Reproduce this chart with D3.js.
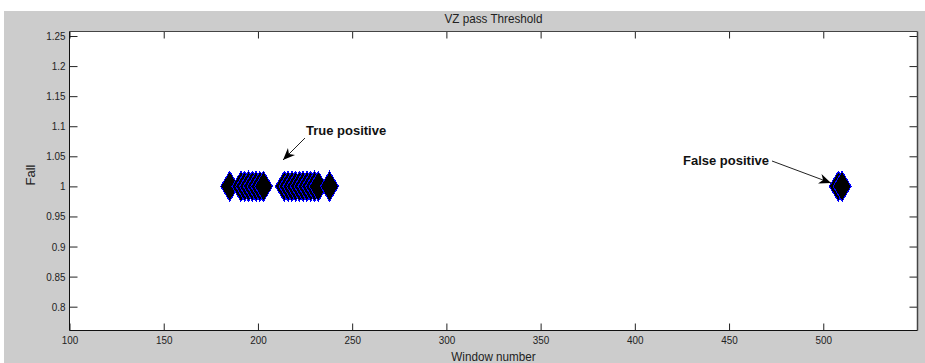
<!DOCTYPE html>
<html>
<head>
<meta charset="utf-8">
<script src="https://cdn.jsdelivr.net/npm/d3@7"></script>
<style>
  html, body { margin: 0; padding: 0; background: #ffffff; }
  svg { display: block; }
  text { font-family: "Liberation Sans", Arial, Helvetica, sans-serif; }
</style>
</head>
<body>
<svg id="chart" width="925" height="363"></svg>
<script>
// Windows flagged as falls (y = 1 means "fall")
const truePositiveWindows = [185,
  191, 193, 195, 197, 199, 201, 203,
  214, 216, 218, 220, 222, 224, 226, 228, 230, 232,
  238];
const falsePositiveWindows = [508, 510];
const fallValue = 1;

const xTicks = [100, 150, 200, 250, 300, 350, 400, 450, 500];
const yTicks = [0.8, 0.85, 0.9, 0.95, 1, 1.05, 1.1, 1.15, 1.2, 1.25];
const yTickLabels = ["0.8", "0.85", "0.9", "0.95", "1", "1.05", "1.1", "1.15", "1.2", "1.25"];

const titleText = "VZ pass Threshold";
const xLabelText = "Window number";
const yLabelText = "Fall";

const annotations = [
  { text: "True positive", window: 203, value: 1 },
  { text: "False positive", window: 508, value: 1 }
];

// ---- layout ----
const svg = d3.select("#chart");
const W = 925, H = 363;
const plot = { left: 69.5, right: 917.5, top: 31.5, bottom: 330.5 };

const x = d3.scaleLinear().domain([100, 550]).range([plot.left, plot.right]);
const y = d3.scaleLinear().domain([0.7604, 1.2575]).range([plot.bottom, plot.top]);

// figure background
svg.append("rect").attr("x", 4).attr("y", 11).attr("width", W - 4).attr("height", H - 11)
  .attr("fill", "#cccccc");

// axes background
svg.append("rect")
  .attr("x", plot.left).attr("y", plot.top)
  .attr("width", plot.right - plot.left).attr("height", plot.bottom - plot.top)
  .attr("fill", "#ffffff");

const condense = 0.9;

function styleAxis(g) {
  g.select(".domain").remove();
  g.selectAll(".tick line").attr("stroke", "#222").attr("stroke-width", 1);
  g.selectAll(".tick text").attr("fill", "#222").attr("font-size", 11);
}

// bottom axis with labels, ticks pointing inward
const gx = svg.append("g").attr("transform", `translate(0,${plot.bottom})`)
  .call(d3.axisBottom(x).tickValues(xTicks).tickSizeInner(-7).tickSizeOuter(0).tickPadding(6)
    .tickFormat(d3.format("d")));
styleAxis(gx);
gx.selectAll(".tick text").attr("transform", `scale(${condense},1)`).attr("x", 0);

// top axis: ticks only
const gxt = svg.append("g").attr("transform", `translate(0,${plot.top})`)
  .call(d3.axisTop(x).tickValues(xTicks).tickSizeInner(-7).tickSizeOuter(0).tickFormat(""));
styleAxis(gxt);

// left axis with labels
const gy = svg.append("g").attr("transform", `translate(${plot.left},0)`)
  .call(d3.axisLeft(y).tickValues(yTicks).tickSizeInner(-8).tickSizeOuter(0).tickPadding(4)
    .tickFormat((d, i) => yTickLabels[i]));
styleAxis(gy);
gy.selectAll(".tick text").attr("transform", `scale(${condense},1)`)
  .attr("x", -4 / condense);

// right axis: ticks only
const gyr = svg.append("g").attr("transform", `translate(${plot.right},0)`)
  .call(d3.axisRight(y).tickValues(yTicks).tickSizeInner(-8).tickSizeOuter(0).tickFormat(""));
styleAxis(gyr);

// axes box
svg.append("line").attr("x1", plot.left).attr("x2", plot.right).attr("y1", plot.top).attr("y2", plot.top)
  .attr("stroke", "#444").attr("stroke-width", 1);
svg.append("line").attr("x1", plot.right).attr("x2", plot.right).attr("y1", plot.top).attr("y2", plot.bottom)
  .attr("stroke", "#444").attr("stroke-width", 1.5);
svg.append("line").attr("x1", plot.left).attr("x2", plot.right).attr("y1", plot.bottom).attr("y2", plot.bottom)
  .attr("stroke", "#111").attr("stroke-width", 1);
svg.append("line").attr("x1", plot.left).attr("x2", plot.left).attr("y1", plot.top).attr("y2", plot.bottom)
  .attr("stroke", "#111").attr("stroke-width", 1);

// diamond markers, drawn in window order so later ones overlap earlier ones
const diamond = "M0,-15L9,0L0,15L-9,0Z";
const allWindows = truePositiveWindows.concat(falsePositiveWindows);
svg.append("g").attr("shape-rendering", "crispEdges")
  .selectAll("path").data(allWindows).join("path")
  .attr("d", diamond)
  .attr("transform", d => `translate(${x(d)},${y(fallValue)})`)
  .attr("fill", "#000000")
  .attr("stroke", "#0000ff")
  .attr("stroke-width", 1);

// title and axis labels
const midX = (plot.left + plot.right) / 2;
svg.append("text").attr("x", midX).attr("y", 23)
  .attr("text-anchor", "middle").attr("font-size", 13).attr("fill", "#222")
  .attr("transform", `translate(${midX * (1 - condense)},0) scale(${condense},1)`)
  .text(titleText);

svg.append("text").attr("x", midX).attr("y", 361)
  .attr("text-anchor", "middle").attr("font-size", 13).attr("fill", "#222")
  .attr("transform", `translate(${midX * (1 - condense)},0) scale(${condense},1)`)
  .text(xLabelText);

svg.append("text")
  .attr("transform", `translate(35,${(plot.top + plot.bottom) / 2 - 6}) rotate(-90)`)
  .attr("text-anchor", "middle").attr("font-size", 13).attr("fill", "#222")
  .text(yLabelText);

// annotations with arrows
const ann = [
  { a: annotations[0], tx: 306, ty: 135, x1: 305, y1: 138, tip: [283, 160] },
  { a: annotations[1], tx: 683, ty: 165, x1: 772, y1: 161, tip: [831, 183] }
];
ann.forEach(o => {
  svg.append("text").attr("x", o.tx).attr("y", o.ty)
    .attr("font-size", 13).attr("font-weight", "bold").attr("fill", "#111")
    .text(o.a.text);
  const [tx, ty] = o.tip;
  svg.append("line").attr("x1", o.x1).attr("y1", o.y1).attr("x2", tx).attr("y2", ty)
    .attr("stroke", "#222").attr("stroke-width", 1);
  const ang = Math.atan2(ty - o.y1, tx - o.x1);
  const L = 12, Wd = 5;
  const bx = tx - L * Math.cos(ang), by = ty - L * Math.sin(ang);
  const pts = [
    [tx, ty],
    [bx + Wd * Math.sin(ang), by - Wd * Math.cos(ang)],
    [tx - 0.7 * L * Math.cos(ang), ty - 0.7 * L * Math.sin(ang)],
    [bx - Wd * Math.sin(ang), by + Wd * Math.cos(ang)]
  ];
  svg.append("path").attr("d", d3.line()(pts) + "Z").attr("fill", "#000");
});
</script>
</body>
</html>
